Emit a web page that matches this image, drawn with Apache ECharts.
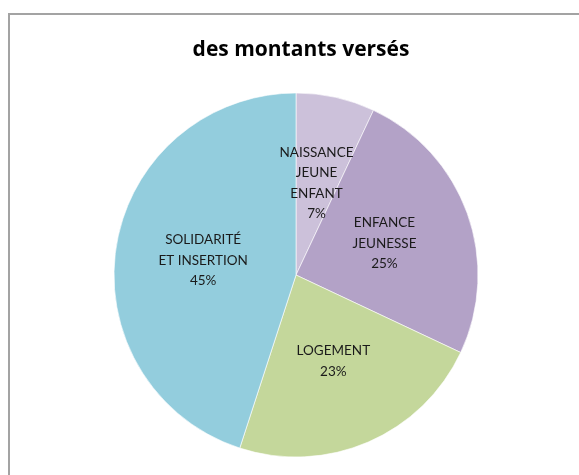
<!DOCTYPE html>
<html>
<head>
<meta charset="utf-8">
<script src="https://cdn.jsdelivr.net/npm/echarts@6/dist/echarts.min.js"></script>
<style>
  html, body { margin: 0; padding: 0; background: #fff; }
  #chart { width: 579px; height: 475px; }
</style>
</head>
<body>
<div id="chart"></div>
<script>
// category labels as shown inside the slices
let categories = [
    'NAISSANCE\nJEUNE\nENFANT',
    'ENFANCE\nJEUNESSE',
    'LOGEMENT',
    'SOLIDARITÉ\nET INSERTION'
];
// share of the amounts paid, in percent
let shares = [7, 25, 23, 45];
let sliceColors = ['#ccc1da', '#b3a2c7', '#c4d79b', '#93cddd'];

let chart = echarts.init(document.getElementById('chart'), null, {renderer: 'canvas'});

let pieData = categories.map(function (name, i) {
    return {name: name, value: shares[i], itemStyle: {color: sliceColors[i]}};
});

chart.setOption({
    animation: false,
    title: {
        text: 'des montants versés',
        left: 296,
        top: 35,
        textAlign: 'center',
        textStyle: {
            fontFamily: 'Open Sans',
            fontWeight: 'bold',
            fontSize: 21,
            color: '#000'
        }
    },
    graphic: [{
        type: 'rect',
        shape: {x: 9, y: 14, width: 620, height: 520},
        style: {fill: null, stroke: '#a3a3a3', lineWidth: 2},
        silent: true
    }],
    series: [{
        type: 'pie',
        center: [296, 275],
        radius: [0, 182],
        startAngle: 90,
        clockwise: true,
        avoidLabelOverlap: false,
        minShowLabelAngle: 0,
        data: pieData,
        itemStyle: {borderColor: '#ffffff', borderWidth: 0.6},
        label: {
            position: 'inside',
            fontFamily: 'Lato',
            fontSize: 13.5,
            lineHeight: 20.5,
            color: '#1a1a1a',
            formatter: function (p) {
                return p.name + '\n' + Math.round(p.percent) + '%';
            }
        },
        labelLayout: function () {
            return {hideOverlap: false};
        },
        labelLine: {show: false},
        emphasis: {disabled: true}
    }]
});
</script>
</body>
</html>
